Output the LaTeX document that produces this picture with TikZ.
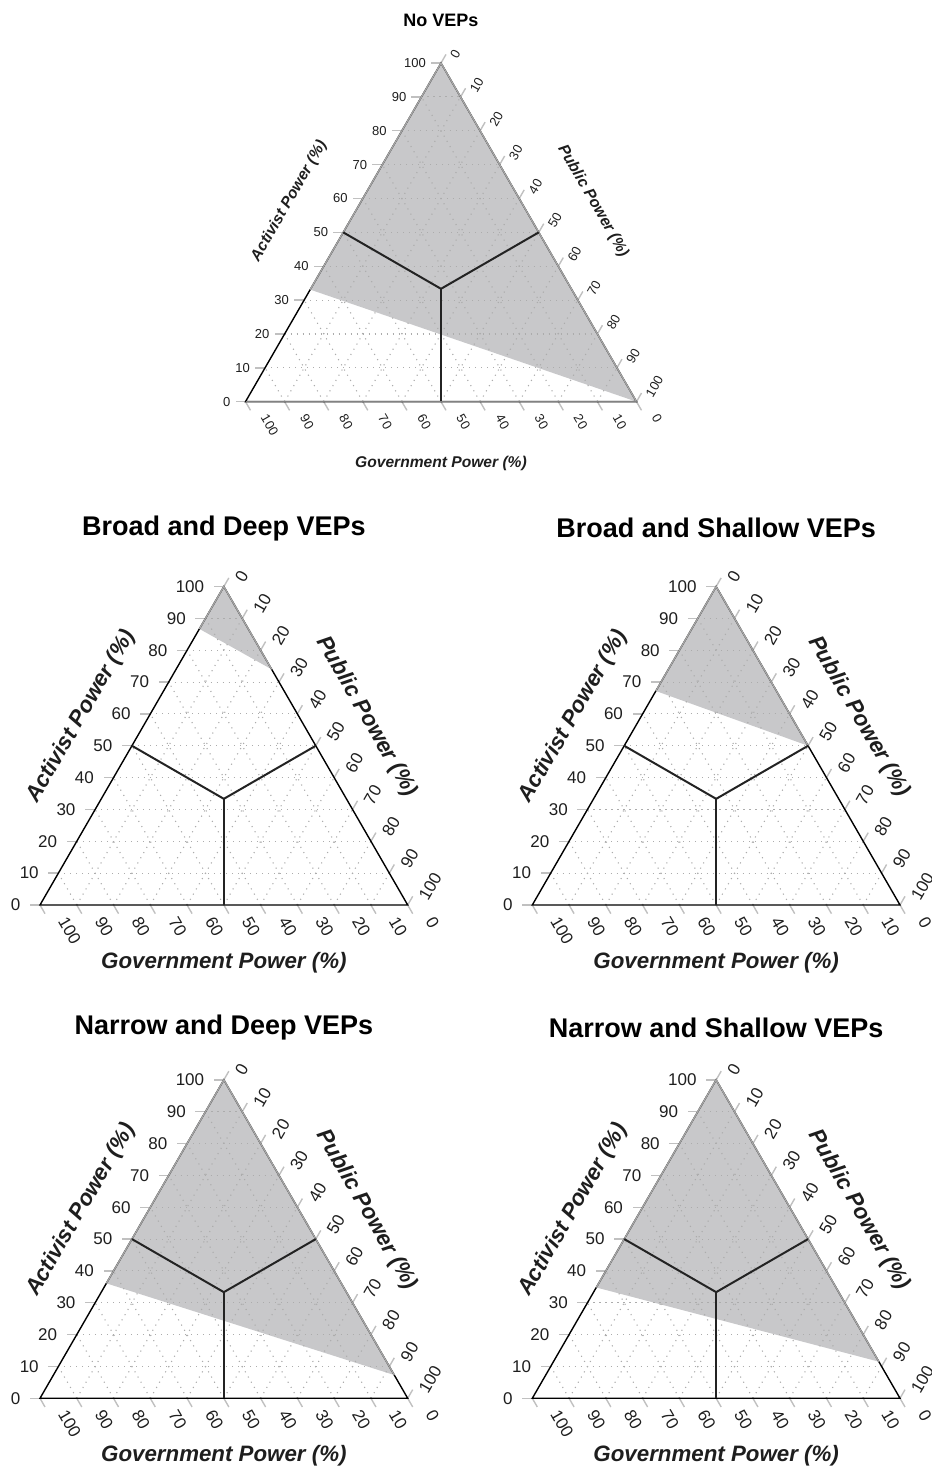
\documentclass[tikz,border=0pt]{standalone}
\usepackage{fontspec}
\setmainfont{Liberation Sans}
\usetikzlibrary{calc}
\usetikzlibrary{math}

\definecolor{regiongray}{RGB}{200,200,202}
\definecolor{edgegray}{RGB}{165,165,165}
\definecolor{basegray}{RGB}{130,130,130}
\definecolor{tickgray}{RGB}{192,192,192}
\definecolor{gridgray}{RGB}{172,172,172}
\definecolor{linedark}{RGB}{35,35,35}
\definecolor{textdark}{RGB}{30,30,30}

% sizes for the four lower plots
\newcommand{\largesizes}{%
  \def\numfont{\fontsize{17}{17}\selectfont}%
  \def\axisfont{\fontsize{22.3}{22.3}\selectfont\bfseries\itshape}%
  \def\titlefont{\fontsize{27}{27}\selectfont\bfseries}%
  \def\ticklen{10}%
  \def\leftgap{19.5}%
  \def\rightdx{15.3}\def\rightdy{6.2}%
  \def\bottomdx{22.5}\def\bottomdy{-13}%
  \def\sidegap{58.5}\def\basegap{57.5}%
}
% sizes for the plot on top
\newcommand{\smallsizes}{%
  \def\numfont{\fontsize{13}{13}\selectfont}%
  \def\axisfont{\fontsize{15.6}{15.6}\selectfont\bfseries\itshape}%
  \def\titlefont{\fontsize{18}{18}\selectfont\bfseries}%
  \def\ticklen{10}%
  \def\leftgap{15}%
  \def\rightdx{12.5}\def\rightdy{5.5}%
  \def\bottomdx{18.7}\def\bottomdy{-13.7}%
  \def\sidegap{62.5}\def\basegap{61.6}%
}

% #1,#2: government corner, #3: side, #4,#5: activist share where the
% shaded area meets the left and the right side, #6: title gap, #7: title
\newcommand{\ternplot}[7]{%
  \begin{scope}[shift={(#1,#2)}]
    \tikzmath{
      \side = #3;             % side of the triangle
      \high = 0.8660254*#3;   % height of the triangle
      \cutl = #4;             % shaded area on the left side
      \cutr = #5;             % shaded area on the right side
    }

    % corners, centre and middles of the sides
    \coordinate (G) at (0,0);
    \coordinate (P) at (\side,0);
    \coordinate (A) at (\side/2,\high);
    \coordinate (M) at (\side/2,\high/3);
    \coordinate (Lm) at (\side/4,\high/2);
    \coordinate (Rm) at (3*\side/4,\high/2);
    \coordinate (Bm) at (\side/2,0);

    % shaded area
    \coordinate (L) at (\cutl*\side/2,\cutl*\high);
    \coordinate (R) at (\side-\cutr*\side/2,\cutr*\high);
    \fill[regiongray] (A) -- (L) -- (R) -- cycle;

    % dotted grid
    \foreach \k in {1,...,9} {
      \draw[grid line] (\k*\side/20,\k*\high/10) -- (\side-\k*\side/20,\k*\high/10);
      \draw[grid line] (\k*\side/10,0) -- (\side/2+\k*\side/20,\high-\k*\high/10);
      \draw[grid line] (\k*\side/10,0) -- (\k*\side/20,\k*\high/10);
    }

    % ticks and their numbers
    \foreach \k in {0,...,10} {
      \pgfmathtruncatemacro{\val}{10*\k}
      \coordinate (a) at (\k*\side/20,\k*\high/10);               % activist
      \coordinate (p) at (\side/2+\k*\side/20,\high-\k*\high/10); % public
      \coordinate (g) at (\side-\k*\side/10,0);                   % government
      \draw[axis tick] (a) -- ++(180:\ticklen);
      \draw[axis tick] (p) -- ++(60:\ticklen);
      \draw[axis tick] (g) -- ++(-60:\ticklen);
      \node[num, anchor=east] (alab) at ($(a)+(-\leftgap,0)$) {\val};
      \node[num, anchor=west, rotate=60] (plab) at ($(p)+(\rightdx,\rightdy)$) {\val};
      \node[num, anchor=west, rotate=-60] (glab) at ($(g)+(\bottomdx,\bottomdy)$) {\val};
    }

    % triangle
    \draw[triangle edge] (G) -- (P) -- (A) -- cycle;
    \draw[shade edge] (L) -- (A) -- (R);

    % borders between the regions
    \draw[region line] (Lm) -- (M) -- (Rm);
    \draw[region line] (M) -- (Bm);

    % axis titles
    \node[axis title, rotate=60] (atitle) at ($(Lm)+(150:\sidegap)$) {Activist Power (\%)};
    \node[axis title, rotate=-60] (ptitle) at ($(Rm)+(30:\sidegap)$) {Public Power (\%)};
    \node[axis title] (gtitle) at ($(Bm)+(0,-\basegap)$) {Government Power (\%)};
    \node[plot title] (title) at ($(A)+(0,#6)$) {#7};
  \end{scope}
}

\begin{document}
\begin{tikzpicture}[x=1pt,y=1pt,
  grid line/.style={gridgray, line width=1.1pt, dash pattern=on 1.1pt off 4.9pt},
  axis tick/.style={tickgray, line width=1.4pt},
  triangle edge/.style={black, line width=1.4pt, line join=miter},
  shade edge/.style={edgegray, line width=1.4pt},
  region line/.style={linedark, line width=2pt},
  num/.style={textdark, inner sep=0pt, font=\numfont},
  axis title/.style={textdark, inner sep=0pt, font=\axisfont},
  plot title/.style={black, inner sep=0pt, font=\titlefont}]

  \useasboundingbox (0,0) rectangle (931,1466);

  % plot on top
  \smallsizes
  \ternplot{245.5}{1064.3}{391}{0.331}{0}{42.6}{No VEPs}
  \draw[basegray, line width=1.4pt] (G) -- (P);

  % four lower plots
  \largesizes
  \ternplot{40}{561}{367.7}{0.867}{0.74}{58.5}{Broad and Deep VEPs}
  \ternplot{532.3}{561}{367.7}{0.672}{0.5}{58.5}{Broad and Shallow VEPs}
  \ternplot{40}{67.7}{367.7}{0.361}{0.073}{52.5}{Narrow and Deep VEPs}
  \ternplot{532.3}{67.7}{367.7}{0.348}{0.115}{52.5}{Narrow and Shallow VEPs}

\end{tikzpicture}
\end{document}
